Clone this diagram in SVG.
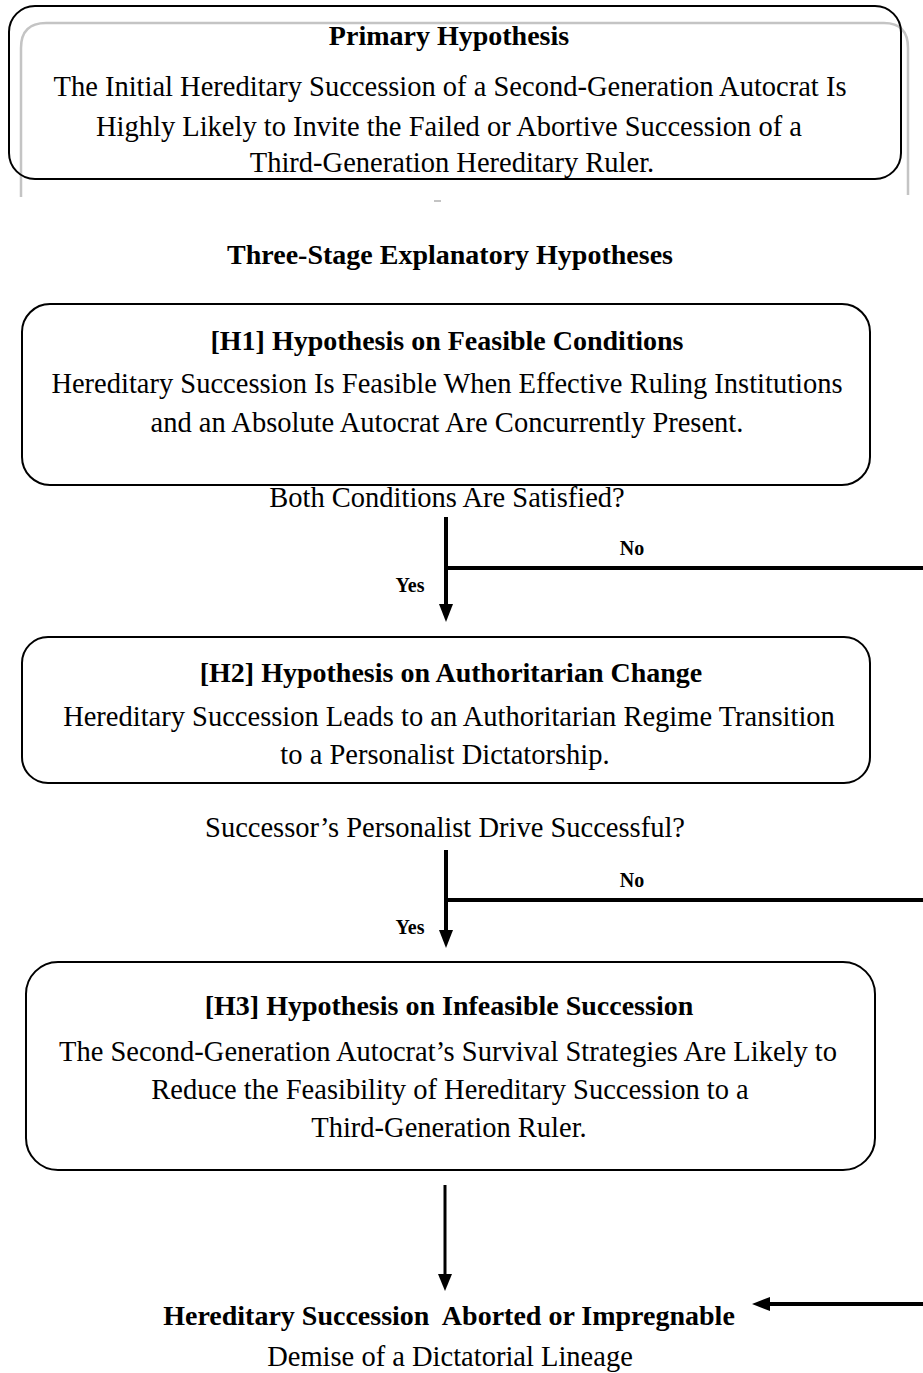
<svg xmlns="http://www.w3.org/2000/svg" width="923" height="1373" viewBox="0 0 923 1373">
<style>
.box{fill:none;stroke:#000;stroke-width:2}
.ghost{fill:none;stroke:#c4c4c4;stroke-width:2.5}
text{font-family:"Liberation Serif","Times New Roman",serif;fill:#000;text-anchor:middle}
.t{font-size:28px;font-weight:bold}
.b{font-size:28.5px}
.l{font-size:20px;font-weight:bold}
.c{stroke:#000;stroke-width:4;fill:none}
</style>
<g id="primary">
<path class="ghost" d="M21,197 L21,48 Q21,23 46,23 L884,23 Q908,23 908,48 L908,195"/>
<line x1="434" y1="201" x2="441" y2="201" stroke="#c4c4c4" stroke-width="2"/>
<rect class="box" x="9" y="6" width="892" height="173" rx="26"/>
<text class="t" x="449" y="45">Primary Hypothesis</text>
<text class="b" x="450" y="96">The Initial Hereditary Succession of a Second-Generation Autocrat Is</text>
<text class="b" x="449" y="136">Highly Likely to Invite the Failed or Abortive Succession of a</text>
<text class="b" x="452" y="172">Third-Generation Hereditary Ruler.</text>
</g>
<g id="heading">
<text class="t" x="450" y="264">Three-Stage Explanatory Hypotheses</text>
</g>
<g id="h1">
<rect class="box" x="22" y="304" width="848" height="181" rx="28"/>
<text class="t" x="447" y="350">[H1] Hypothesis on Feasible Conditions</text>
<text class="b" x="447" y="393">Hereditary Succession Is Feasible When Effective Ruling Institutions</text>
<text class="b" x="447" y="432">and an Absolute Autocrat Are Concurrently Present.</text>
</g>
<g id="q1">
<text class="b" x="447" y="507">Both Conditions Are Satisfied?</text>
</g>
<g id="h2">
<rect class="box" x="22" y="637" width="848" height="146" rx="26"/>
<text class="t" x="451" y="682">[H2] Hypothesis on Authoritarian Change</text>
<text class="b" x="449" y="726">Hereditary Succession Leads to an Authoritarian Regime Transition</text>
<text class="b" x="445" y="764">to a Personalist Dictatorship.</text>
</g>
<g id="q2">
<text class="b" x="445" y="837">Successor’s Personalist Drive Successful?</text>
</g>
<g id="h3">
<rect class="box" x="26" y="962" width="849" height="208" rx="32"/>
<text class="t" x="449" y="1015">[H3] Hypothesis on Infeasible Succession</text>
<text class="b" x="448" y="1061">The Second-Generation Autocrat’s Survival Strategies Are Likely to</text>
<text class="b" x="450" y="1099">Reduce the Feasibility of Hereditary Succession to a</text>
<text class="b" x="449" y="1137">Third-Generation Ruler.</text>
</g>
<g id="outcome">
<text class="t" x="449" y="1325" xml:space="preserve" style="white-space:pre">Hereditary Succession  Aborted or Impregnable</text>
<text class="b" x="450" y="1366">Demise of a Dictatorial Lineage</text>
</g>
<g id="connectors">
<line class="c" x1="446" y1="517" x2="446" y2="606"/>
<path d="M439,604 L453,604 L446,622 Z" fill="#000"/>
<line class="c" x1="446" y1="568" x2="923" y2="568"/>
<text class="l" x="632" y="555">No</text>
<text class="l" x="410" y="592">Yes</text>
<line class="c" x1="446" y1="850" x2="446" y2="932"/>
<path d="M439,930 L453,930 L446,948 Z" fill="#000"/>
<line class="c" x1="446" y1="900" x2="923" y2="900"/>
<text class="l" x="632" y="887">No</text>
<text class="l" x="410" y="934">Yes</text>
<line x1="445" y1="1185" x2="445" y2="1276" stroke="#000" stroke-width="3"/>
<path d="M438,1274 L452,1274 L445,1291 Z" fill="#000"/>
<line class="c" x1="923" y1="1304" x2="768" y2="1304"/>
<path d="M770,1297 L770,1311 L752,1304 Z" fill="#000"/>
</g>
</svg>
